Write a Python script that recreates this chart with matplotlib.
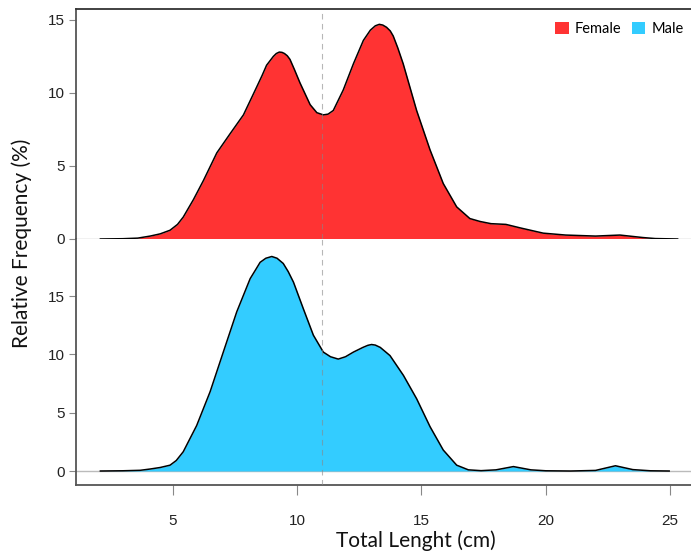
import matplotlib.pyplot as plt
from matplotlib.patches import Patch

# Values (density in %)
female_x = [2.1, 3.0, 3.6, 4.1, 4.5, 4.9, 5.2, 5.43, 5.84, 6.24, 6.78, 7.31, 7.85, 8.38, 8.6,
            8.78, 9.05, 9.17, 9.29, 9.4, 9.5, 9.61, 9.72, 9.9, 10.12, 10.53, 10.8, 11.06, 11.25,
            11.46, 11.86, 12.27, 12.67, 12.95, 13.15, 13.31, 13.45, 13.6, 13.75, 13.87, 14.05,
            14.27, 14.81, 15.35, 15.88, 16.42, 16.95, 17.36, 17.8, 18.4, 19.0, 19.9, 20.8, 22.0,
            22.98, 23.9, 24.4, 25.3]
female_y = [0.0, 0.02, 0.06, 0.2, 0.35, 0.6, 1.0, 1.5, 2.7, 4.0, 5.9, 7.2, 8.5, 10.4, 11.2,
            11.9, 12.5, 12.7, 12.8, 12.78, 12.7, 12.55, 12.3, 11.6, 10.7, 9.2, 8.65, 8.5, 8.55,
            8.8, 10.2, 12.0, 13.6, 14.3, 14.6, 14.7, 14.65, 14.5, 14.25, 13.9, 13.1, 12.0, 8.8,
            6.1, 3.8, 2.2, 1.4, 1.2, 1.05, 1.0, 0.75, 0.4, 0.27, 0.2, 0.27, 0.1, 0.03, 0.0]

male_x = [2.1, 3.0, 3.7, 4.1, 4.5, 4.9, 5.15, 5.43, 5.97, 6.51, 7.04, 7.58, 8.12, 8.35, 8.52,
          8.75, 8.99, 9.2, 9.45, 9.65, 9.86, 10.26, 10.66, 11.06, 11.35, 11.66, 11.95, 12.27,
          12.65, 12.85, 13.0, 13.15, 13.35, 13.74, 14.28, 14.81, 15.35, 15.88, 16.42, 16.89,
          17.4, 18.0, 18.7, 19.4, 20.0, 21.0, 22.0, 22.8, 23.5, 24.2, 24.96]
male_y = [0.0, 0.02, 0.06, 0.17, 0.3, 0.5, 0.9, 1.65, 3.9, 6.8, 10.2, 13.65, 16.5, 17.3, 17.9,
          18.25, 18.4, 18.25, 17.8, 17.1, 16.2, 13.9, 11.65, 10.2, 9.8, 9.6, 9.8, 10.2, 10.6,
          10.78, 10.85, 10.8, 10.6, 9.9, 8.2, 6.2, 3.8, 1.8, 0.5, 0.1, 0.03, 0.1, 0.38, 0.1,
          0.02, 0.0, 0.05, 0.45, 0.12, 0.02, 0.0]

cutoff = 11
x_ticks = [5, 10, 15, 20, 25]
top_ticks = [0, 5, 10, 15]
bottom_ticks = [0, 5, 10, 15]

red = "#FF3333"
blue = "#33CCFF"
axis_grey = "#555555"
label_font = ["Lato", "DejaVu Sans"]

W, H = 691, 553
plt.rcParams["font.family"] = ["Liberation Sans", "DejaVu Sans"]
fig = plt.figure(figsize=(W / 100, H / 100), dpi=100)

left = 76 / W
width = (705 - 76) / W
ax1 = fig.add_axes([left, 1 - 239 / H, width, (239 - 9) / H])
ax2 = fig.add_axes([left, 1 - 485 / H, width, (485 - 239) / H])

for ax, xs, ys, col in [(ax1, female_x, female_y, red), (ax2, male_x, male_y, blue)]:
    ax.axhline(0, color="#BBBBBB", lw=1, zorder=1)
    ax.fill_between(xs, ys, 0, color=col, lw=0, zorder=2)
    ax.plot(xs, ys, color="black", lw=1.1, zorder=3, solid_joinstyle="round")
    ax.axvline(cutoff, color="#888888", lw=0.8, ls=(0, (5, 4)), alpha=0.6, zorder=4)
    ax.set_xlim(1.12, 26.4)
    ax.spines["right"].set_visible(False)
    ax.spines["left"].set_color(axis_grey)
    ax.spines["left"].set_linewidth(1.3)
    ax.tick_params(axis="y", direction="out", length=5, color="#888888", labelsize=11,
                   labelcolor="#222222", pad=3)

ax1.set_ylim(0, 15.75)
ax1.set_yticks(top_ticks)
ax1.spines["bottom"].set_visible(False)
ax1.spines["top"].set_color("#333333")
ax1.spines["top"].set_linewidth(1.3)
ax1.set_xticks([])

ax2.set_ylim(-1.2, 19.9)
ax2.set_yticks(bottom_ticks)
ax2.spines["top"].set_visible(False)
ax2.spines["bottom"].set_color(axis_grey)
ax2.spines["bottom"].set_linewidth(1.3)
ax2.set_xticks(x_ticks)
ax2.tick_params(axis="x", direction="out", length=7, color="#888888", labelsize=11,
                labelcolor="#222222", pad=14)

fig.text(416 / W, 1 - 541 / H, "Total Lenght (cm)", ha="center", va="center",
         fontsize=15, family=label_font, color="#111111")
fig.text(0.032, 1 - 243 / H, "Relative Frequency (%)", rotation=90, ha="center", va="center",
         fontsize=15, family=label_font, color="#111111")

handles = [Patch(facecolor=red, edgecolor="none", label="Female"),
           Patch(facecolor=blue, edgecolor="none", label="Male")]
ax1.legend(handles=handles, loc="center right", bbox_to_anchor=(0.978, 0.913), ncol=2,
           frameon=False, borderpad=0, handlelength=0.9, handleheight=0.9, handletextpad=0.45,
           columnspacing=0.7, prop={"family": label_font, "size": 10.5})

fig.savefig("out.png", dpi=100)
